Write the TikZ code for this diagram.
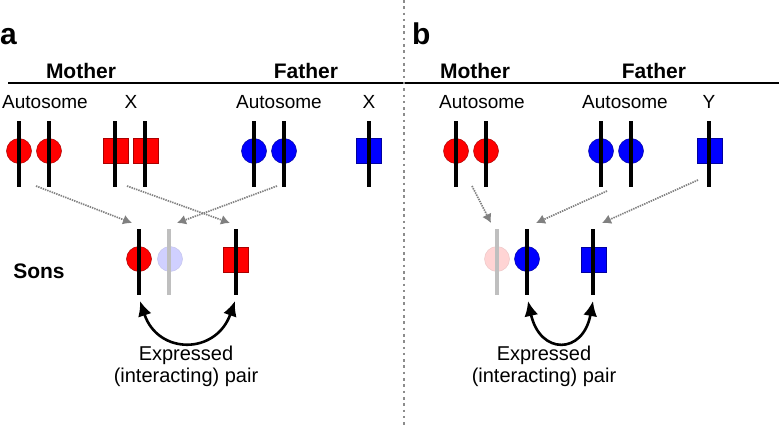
\documentclass[tikz,border=0pt]{standalone}
\usepackage{fontspec}
\setmainfont{Liberation Sans}
\usetikzlibrary{arrows.meta}
\definecolor{lblue}{RGB}{208,208,255}
\definecolor{lpink}{RGB}{255,212,212}
\definecolor{dred}{RGB}{170,0,0}
\definecolor{dblue}{RGB}{0,0,160}
\begin{document}
\begin{tikzpicture}[x=1pt,y=-1pt,
  chrom/.style={rectangle,fill=black,draw=none,minimum width=3.2pt,minimum height=66pt,inner sep=0pt},
  gchrom/.style={chrom,fill=black!25},
  rcirc/.style={circle,fill=red,draw=dred,line width=0.5pt,minimum size=25pt,inner sep=0pt},
  bcirc/.style={circle,fill=blue,draw=dblue,line width=0.5pt,minimum size=25pt,inner sep=0pt},
  lbcirc/.style={circle,fill=lblue,draw=lblue!85!gray,line width=0.5pt,minimum size=25pt,inner sep=0pt},
  lpcirc/.style={circle,fill=lpink,draw=lpink!85!gray,line width=0.5pt,minimum size=25pt,inner sep=0pt},
  rsq/.style={rectangle,fill=red,draw=dred,line width=0.5pt,minimum size=25pt,inner sep=0pt},
  bsq/.style={rectangle,fill=blue,draw=dblue,line width=0.5pt,minimum size=25pt,inner sep=0pt},
  lab/.style={anchor=base,inner sep=0pt,font=\fontsize{19}{23}\selectfont},
  blab/.style={anchor=base,inner sep=0pt,font=\fontsize{21}{25}\selectfont\bfseries},
  plab/.style={anchor=base west,inner sep=0pt,font=\fontsize{30}{34}\selectfont\bfseries},
  elab/.style={anchor=base,inner sep=0pt,font=\fontsize{20}{23}\selectfont},
  inh/.style={draw=black!50,line width=1.7pt,dash pattern=on 1.4pt off 1pt,
    -{Latex[length=9pt,width=10pt,fill=black!50]}},
  pair/.style={draw=black,line width=2.6pt,{Latex[length=15pt,width=14pt]}-{Latex[length=15pt,width=14pt]}}
]
\useasboundingbox (0,0) rectangle (779,428);
% separators
\draw[line width=1.8pt] (8,83) -- (779,83);
\draw[black!45,line width=2.6pt,dash pattern=on 2.6pt off 3.7pt] (404,0) -- (404,428);

% ---------------- panel a ----------------
\node[plab] (la) at (0,45) {a};
\node[blab] (mothA) at (81,78) {Mother};
\node[blab] (fathA) at (306,78) {Father};
\node[lab] (autA1) at (45,108) {Autosome};
\node[lab] (xA1) at (131,108) {X};
\node[lab] (autA2) at (279,108) {Autosome};
\node[lab] (xA2) at (369,108) {X};

\node[rcirc] (cma1) at (19,151) {};
\node[rcirc] (cma2) at (49,151) {};
\node[rsq] (qmx1) at (115.5,150.5) {};
\node[rsq] (qmx2) at (145.5,150.5) {};
\node[bcirc] (cfa1) at (254,151) {};
\node[bcirc] (cfa2) at (284,151) {};
\node[bsq] (qfx) at (369,150.5) {};
\node[chrom] (ma1) at (19,154) {};
\node[chrom] (ma2) at (49,154) {};
\node[chrom] (mx1) at (115,154) {};
\node[chrom] (mx2) at (145,154) {};
\node[chrom] (fa1) at (254,154) {};
\node[chrom] (fa2) at (284,154) {};
\node[chrom] (fx) at (369,154) {};

\node[blab] (sons) at (39,278) {Sons};
\node[rcirc] (cs1) at (139,259) {};
\node[lbcirc] (cs2) at (170,259) {};
\node[rsq] (qs3) at (236,259.5) {};
\node[chrom] (s1) at (139,262) {};
\node[gchrom] (s2) at (169,262) {};
\node[chrom] (s3) at (236,262) {};

\coordinate (a1s) at (36,186);
\coordinate (a2s) at (127,186);
\coordinate (a3s) at (277,186);
\coordinate (a1e) at (132,223);
\coordinate (a2e) at (230,223);
\coordinate (a3e) at (177,223);
\draw[inh] (a1s) -- (a1e);
\draw[inh] (a2s) -- (a2e);
\draw[inh] (a3s) -- (a3e);

\coordinate (pa1) at (140,301);
\coordinate (pa2) at (235,301);
\draw[pair] (pa1) .. controls (158,355) and (216,355) .. (pa2);
\node[elab] (exA) at (186,360) {Expressed};
\node[elab] (inA) at (186,382) {(interacting) pair};

% ---------------- panel b ----------------
\node[plab] (lb) at (412,45) {b};
\node[blab] (mothB) at (475,78) {Mother};
\node[blab] (fathB) at (654,78) {Father};
\node[lab] (autB1) at (482,108) {Autosome};
\node[lab] (autB2) at (625,108) {Autosome};
\node[lab] (yB) at (709,108) {Y};

\node[rcirc] (cmb1) at (456,151) {};
\node[rcirc] (cmb2) at (486,151) {};
\node[bcirc] (cfb1) at (601,151) {};
\node[bcirc] (cfb2) at (631,151) {};
\node[bsq] (qfy) at (709.5,150.5) {};
\node[chrom] (mb1) at (456,154) {};
\node[chrom] (mb2) at (486,154) {};
\node[chrom] (fb1) at (601,154) {};
\node[chrom] (fb2) at (631,154) {};
\node[chrom] (fy) at (709,154) {};

\node[lpcirc] (ct1) at (497,259) {};
\node[bcirc] (ct2) at (527,259) {};
\node[bsq] (qt3) at (593.5,259.5) {};
\node[gchrom] (t1) at (497,262) {};
\node[chrom] (t2) at (527,262) {};
\node[chrom] (t3) at (593,262) {};

\coordinate (b1s) at (472,186);
\coordinate (b2s) at (607,191);
\coordinate (b3s) at (698,180);
\coordinate (b1e) at (491,223);
\coordinate (b2e) at (536,223);
\coordinate (b3e) at (602,223);
\draw[inh] (b1s) -- (b1e);
\draw[inh] (b2s) -- (b2e);
\draw[inh] (b3s) -- (b3e);

\coordinate (pb1) at (528,301);
\coordinate (pb2) at (593,301);
\draw[pair] (pb1) .. controls (540,355) and (583,355) .. (pb2);
\node[elab] (exB) at (544,360) {Expressed};
\node[elab] (inB) at (544,382) {(interacting) pair};
\end{tikzpicture}
\end{document}
